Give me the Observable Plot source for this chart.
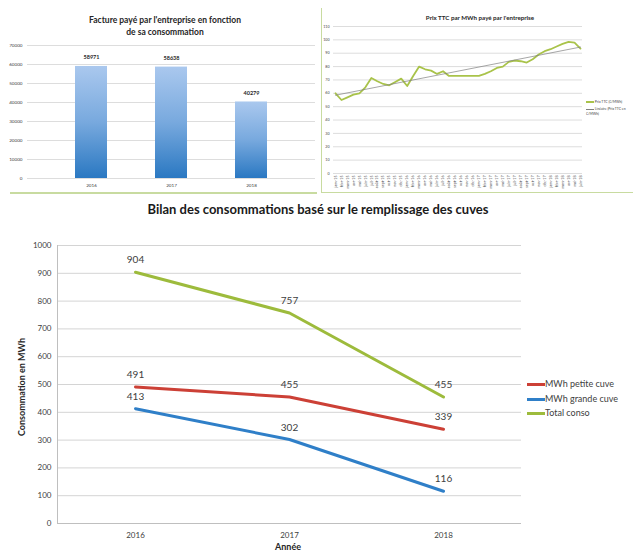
<!DOCTYPE html>
<html>
<head>
<meta charset="utf-8">
<script src="https://cdn.jsdelivr.net/npm/d3@7"></script>
<script src="https://cdn.jsdelivr.net/npm/@observablehq/plot@0.6"></script>
<style>
  body { margin: 0; background: #fff; }
  #page { position: relative; width: 633px; height: 551px; overflow: hidden; background: #fff; font-family: Lato, "Open Sans", sans-serif; }
  .abs { position: absolute; }
  .t1 { font-weight: bold; color: #262626; text-align: center; }
  .leg { position: absolute; white-space: nowrap; color: #404040; }
  .sw { display: inline-block; vertical-align: middle; }
</style>
</head>
<body>
<div id="page">
  <div class="abs t1" style="left:0;top:15px;width:330px;font-size:8.5px;line-height:11.5px;">Facture payé par l'entreprise en fonction<br>de sa consommation</div>
  <div id="c1" class="abs" style="left:0;top:38px;"></div>
  <div class="abs" style="left:10px;top:192px;width:307px;height:1.5px;background:#c8dba0;"></div>

  <div class="abs" style="left:321px;top:8px;width:312px;height:184px;border-left:1.5px solid #c8dba0;border-bottom:1.5px solid #c8dba0;"></div>
  <div class="abs t1" style="left:400px;top:14px;width:160px;font-size:6.2px;">Prix TTC par MWh payé par l'entreprise</div>
  <div id="c2" class="abs" style="left:322px;top:0;"></div>
  <div class="leg" style="left:586px;top:100px;width:44px;white-space:normal;font-size:3.4px;line-height:5px;">
    <div style="margin-bottom:2px;"><span class="sw" style="width:8px;height:1.5px;background:#a9c34a;"></span> Prix TTC (€/MWh)</div>
    <div><span class="sw" style="width:8px;height:0.8px;background:#808080;"></span> Linéaire (Prix TTC en €/MWh)</div>
  </div>

  <div class="abs t1" style="left:0;top:201px;width:636px;font-size:13px;color:#1a1a1a;">Bilan des consommations basé sur le remplissage des cuves</div>
  <div id="c3" class="abs" style="left:0;top:225px;"></div>
  <div class="abs" style="left:21px;top:387px;width:0;height:0;">
    <div style="position:absolute;transform:translate(-50%,-50%) rotate(-90deg);white-space:nowrap;font-weight:bold;font-size:9px;color:#262626;">Consommation  en MWh</div>
  </div>
  <div class="abs t1" style="left:188px;top:541px;width:200px;font-size:9px;">Année</div>
  <div class="leg" style="left:527px;top:377px;font-size:9px;line-height:14.5px;" id="leg3"></div>
</div>
<script>
// ---- Data ----
const years = ["2016", "2017", "2018"];
const facture = [58971, 58638, 40279];

const months = [
  "janv-15","févr-15","mars-15","avr-15","mai-15","juin-15","juil-15","août-15","sept-15","oct-15","nov-15","déc-15",
  "janv-16","févr-16","mars-16","avr-16","mai-16","juin-16","juil-16","août-16","sept-16","oct-16","nov-16","déc-16",
  "janv-17","févr-17","mars-17","avr-17","mai-17","juin-17","juil-17","août-17","sept-17","oct-17","nov-17","déc-17",
  "janv-18","févr-18","mars-18","avr-18","mai-18","juin-18"
];
const prix = [60, 55, 57, 59, 60, 64.5, 71.5, 69, 67, 66, 68.5, 71,
              65.5, 73, 80, 78, 77, 74.5, 76.5, 73, 73, 73, 73, 73,
              73, 74.5, 76.5, 79, 80, 83.5, 84.5, 84, 83, 85.5, 89, 91.5,
              93, 95, 97, 98.5, 98, 93.5];

const seriesNames = ["MWh petite cuve", "MWh grande cuve", "Total conso"];
const petite = [491, 455, 339];
const grande = [413, 302, 116];
const total = [904, 757, 455];
const seriesColors = ["#cc4036", "#2f7fc8", "#9dbb3c"];

const plain = d => String(d);

// ---- Chart 1: bars ----
const fdata = years.map((y, i) => ({year: y, value: facture[i]}));
const p1 = Plot.plot({
  width: 320, height: 157,
  marginLeft: 27, marginRight: 5, marginTop: 7, marginBottom: 17,
  style: {fontFamily: "Lato, sans-serif", fontSize: "4.6px", color: "#404040", background: "transparent"},
  x: {type: "band", domain: years, padding: 0.6, label: null},
  y: {domain: [0, 70000], ticks: d3.range(0, 70001, 10000), label: null},
  marks: [
    Plot.gridY({ticks: d3.range(0, 70001, 10000), stroke: "#d4d4d4", strokeOpacity: 1, strokeWidth: 0.8}),
    Plot.axisY({ticks: d3.range(0, 70001, 10000), tickFormat: plain, tickSize: 0, tickPadding: 5, label: null}),
    Plot.axisX({tickSize: 0, tickPadding: 5, label: null}),
    Plot.barY(fdata, {x: "year", y: "value", fill: "url(#barGrad)"}),
    Plot.text(fdata, {x: "year", y: "value", text: d => String(d.value), dy: -9, fontSize: 5.5, fontWeight: "bold", fill: "#262626"})
  ]
});
d3.select(p1).insert("defs", ":first-child").html(
  '<linearGradient id="barGrad" x1="0" y1="0" x2="0" y2="1">' +
  '<stop offset="0" stop-color="#aac8ee"/><stop offset="0.5" stop-color="#78a9de"/><stop offset="1" stop-color="#2a78c2"/></linearGradient>');
document.getElementById("c1").append(p1);

// ---- Chart 2: price line ----
const pdata = prix.map((v, i) => ({i, v}));
const p2 = Plot.plot({
  width: 311, height: 195,
  marginLeft: 11, marginRight: 51, marginTop: 26, marginBottom: 22,
  style: {fontFamily: "Lato, sans-serif", fontSize: "3.6px", color: "#404040", background: "transparent"},
  x: {domain: [0, months.length - 1], inset: 2, label: null},
  y: {domain: [0, 110], label: null},
  marks: [
    Plot.gridY({ticks: d3.range(0, 111, 10), stroke: "#d4d4d4", strokeOpacity: 1, strokeWidth: 0.8}),
    Plot.axisY({ticks: d3.range(0, 111, 10), tickFormat: plain, tickSize: 0, tickPadding: 4, label: null}),
    Plot.axisX({ticks: d3.range(months.length), tickFormat: i => months[i], tickRotate: -90, tickSize: 0, tickPadding: 2, label: null}),
    Plot.line(pdata, {x: "i", y: "v", stroke: "#a9c34a", strokeWidth: 1.8}),
    Plot.linearRegressionY(pdata, {x: "i", y: "v", stroke: "#808080", strokeWidth: 0.7, ci: 0})
  ]
});
document.getElementById("c2").append(p2);

// ---- Chart 3: consumption lines ----
const cdata = [];
years.forEach((y, i) => {
  cdata.push({year: y, serie: seriesNames[0], value: petite[i]});
  cdata.push({year: y, serie: seriesNames[1], value: grande[i]});
  cdata.push({year: y, serie: seriesNames[2], value: total[i]});
});
const p3 = Plot.plot({
  width: 633, height: 326,
  marginLeft: 57, marginRight: 112, marginTop: 20, marginBottom: 28,
  style: {fontFamily: "Lato, sans-serif", fontSize: "8px", color: "#404040", background: "transparent"},
  x: {type: "point", domain: years, padding: 0.5, label: null},
  y: {domain: [0, 1000], label: null},
  color: {domain: seriesNames, range: seriesColors},
  marks: [
    Plot.gridY({ticks: d3.range(0, 1001, 100), stroke: "#d4d4d4", strokeOpacity: 1, strokeWidth: 1}),
    Plot.ruleY([0], {stroke: "#bfbfbf"}),
    Plot.frame({anchor: "left", stroke: "#bfbfbf"}),
    Plot.axisY({ticks: d3.range(0, 1001, 100), tickFormat: plain, tickSize: 0, tickPadding: 6, label: null}),
    Plot.axisX({tickSize: 0, tickPadding: 9, label: null}),
    Plot.line(cdata, {x: "year", y: "value", z: "serie", stroke: "serie", strokeWidth: 3}),
    Plot.text(cdata, {x: "year", y: "value", text: d => String(d.value), dy: -12, fontSize: 10, fill: "#404040"})
  ]
});
document.getElementById("c3").append(p3);

// legend for chart 3
const leg = d3.select("#leg3");
seriesNames.forEach((s, i) => {
  const row = leg.append("div");
  row.append("span").attr("class", "sw").style("width", "18px").style("height", "3px").style("background", seriesColors[i]);
  row.append("span").text(s);
});
</script>
</body>
</html>
